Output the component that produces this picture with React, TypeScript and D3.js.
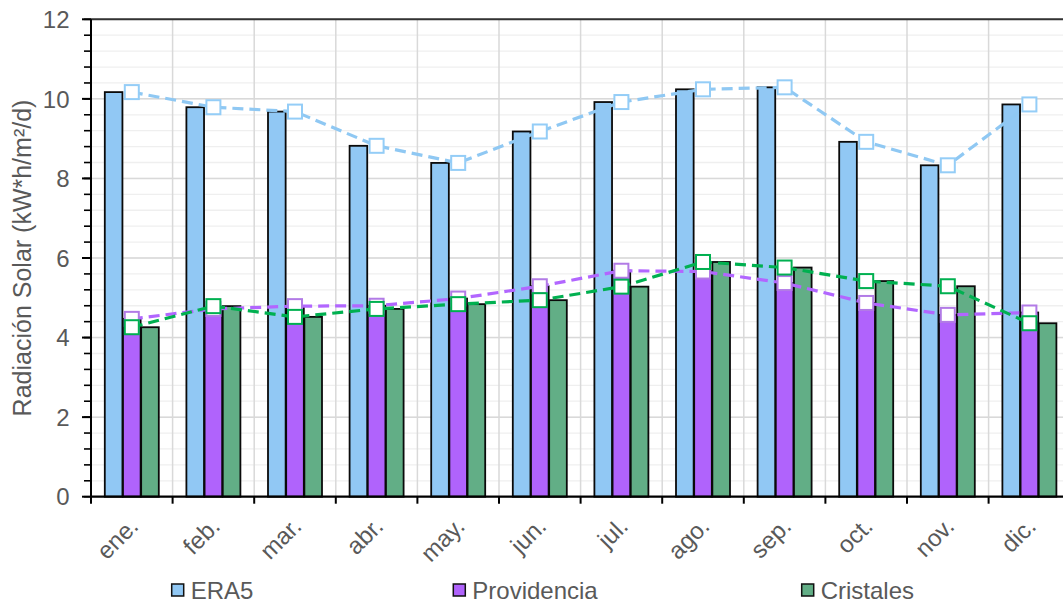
import React from "react";
import * as d3 from "d3";

const months = ["ene.", "feb.", "mar.", "abr.", "may.", "jun.", "jul.", "ago.", "sep.", "oct.", "nov.", "dic."];
const seriesNames = ["ERA5", "Providencia", "Cristales"];
const era5 = [10.17, 9.79, 9.68, 8.82, 8.39, 9.18, 9.92, 10.24, 10.29, 8.92, 8.33, 9.86];
const providencia = [4.47, 4.72, 4.79, 4.8, 4.98, 5.29, 5.68, 5.66, 5.37, 4.87, 4.57, 4.63];
const cristales = [4.26, 4.79, 4.52, 4.72, 4.84, 4.94, 5.28, 5.9, 5.76, 5.42, 5.29, 4.36];
const yMajorTicks = [0, 2, 4, 6, 8, 10, 12];
const yAxisTitle = "Radiación Solar (kW*h/m²/d)";

const W = 1063;
const H = 604;
const left = 91;
const top = 19.3;
const bottom = 496.7;
const catW = 81.6;
const right = left + catW * months.length;

const barFill = ["#91C8F4", "#B063FC", "#62AE86"];
const lineStroke = ["#8FC8F3", "#B266FF", "#00B050"];
const markerStroke = ["#94CDF7", "#B27BE6", "#00B050"];
const textColor = "#595959";
const font = "'Liberation Sans', Arial, sans-serif";

const legendX = [171.7, 453.3, 801.7];

export default function App() {
  const values = [era5, providencia, cristales];
  const x = d3.scaleBand<string>().domain(months).range([left, right]).paddingInner(0).paddingOuter(0);
  const inner = d3
    .scaleBand<string>()
    .domain(seriesNames)
    .range([13.8, catW - 13.8])
    .paddingInner(0.03);
  const y = d3.scaleLinear().domain([0, 12]).range([bottom, top]);
  const minorTicks = d3.range(0, 12.0001, 0.4);
  const cx = (m: string) => (x(m) as number) + x.bandwidth() / 2;

  const line = d3
    .line<number>()
    .x((_, i) => cx(months[i]))
    .y((v) => y(v));

  return (
    <svg
      width={W}
      height={H}
      style={{ position: "absolute", left: 0, top: 0, background: "#fff" }}
      fontFamily={font}
    >
      <rect x={0} y={0} width={W} height={H} fill="#fff" />
      {minorTicks.map((t, i) => (
        <line key={"mg" + i} x1={left} x2={right} y1={y(t)} y2={y(t)} stroke="#efefef" strokeWidth={1.3} />
      ))}
      {yMajorTicks.map((t) => (
        <line key={"Mg" + t} x1={left} x2={right} y1={y(t)} y2={y(t)} stroke="#d9d9d9" strokeWidth={1.5} />
      ))}
      {months.map((m, i) => (
        <line key={"vg" + i} x1={x(m)} x2={x(m)} y1={top} y2={bottom} stroke="#d9d9d9" strokeWidth={1.5} />
      ))}
      {values.map((vals, si) =>
        vals.map((v, i) => {
          const bx = (x(months[i]) as number) + (inner(seriesNames[si]) as number);
          return (
            <rect
              key={"b" + si + "-" + i}
              x={bx}
              y={y(v)}
              width={inner.bandwidth()}
              height={bottom - y(v)}
              fill={barFill[si]}
              stroke="#0a0a0a"
              strokeWidth={1.8}
            />
          );
        })
      )}
      <line x1={left} x2={right} y1={top} y2={top} stroke="#333" strokeWidth={2} />
      <line x1={left} x2={left} y1={top} y2={bottom + 1} stroke="#000" strokeWidth={2} />
      {minorTicks.map((t, i) => (
        <line key={"yt" + i} x1={left - 7} x2={left} y1={y(t)} y2={y(t)} stroke="#000" strokeWidth={1.6} />
      ))}
      {yMajorTicks.map((t) => (
        <line key={"yT" + t} x1={left - 9} x2={left} y1={y(t)} y2={y(t)} stroke="#000" strokeWidth={2} />
      ))}
      {yMajorTicks.map((t) => (
        <text
          key={"yl" + t}
          x={69.5}
          y={y(t)}
          dy="0.36em"
          textAnchor="end"
          fontSize={24}
          fill={textColor}
        >
          {t}
        </text>
      ))}
      <text
        transform={`translate(30.5, ${(top + bottom) / 2}) rotate(-90)`}
        textAnchor="middle"
        fontSize={25}
        fill={textColor}
      >
        {yAxisTitle}
      </text>
      <line x1={left - 1} x2={right} y1={bottom} y2={bottom} stroke="#000" strokeWidth={2.2} />
      {months.map((m, i) => (
        <line key={"xt" + i} x1={x(m)} x2={x(m)} y1={bottom} y2={bottom + 7} stroke="#000" strokeWidth={2} />
      ))}
      {months.map((m) => (
        <text
          key={"xl" + m}
          transform={`translate(${cx(m) + 8}, ${bottom + 31}) rotate(-45)`}
          textAnchor="end"
          fontSize={24}
          fill={textColor}
        >
          {m}
        </text>
      ))}
      {values.map((vals, si) => (
        <g key={"s" + si}>
          <path
            d={line(vals) || ""}
            fill="none"
            stroke={lineStroke[si]}
            strokeWidth={3.2}
            strokeDasharray="11,6"
          />
          {vals.map((v, i) => (
            <rect
              key={"m" + si + "-" + i}
              x={cx(months[i]) - 7}
              y={y(v) - 7}
              width={14}
              height={14}
              fill="#fff"
              stroke={markerStroke[si]}
              strokeWidth={2}
            />
          ))}
        </g>
      ))}
      {seriesNames.map((s, si) => (
        <g key={"lg" + s}>
          <rect
            x={legendX[si]}
            y={584}
            width={12}
            height={12}
            fill={barFill[si]}
            stroke="#111"
            strokeWidth={1.5}
          />
          <text x={legendX[si] + 19} y={598.5} fontSize={24} fill={textColor}>
            {s}
          </text>
        </g>
      ))}
    </svg>
  );
}
